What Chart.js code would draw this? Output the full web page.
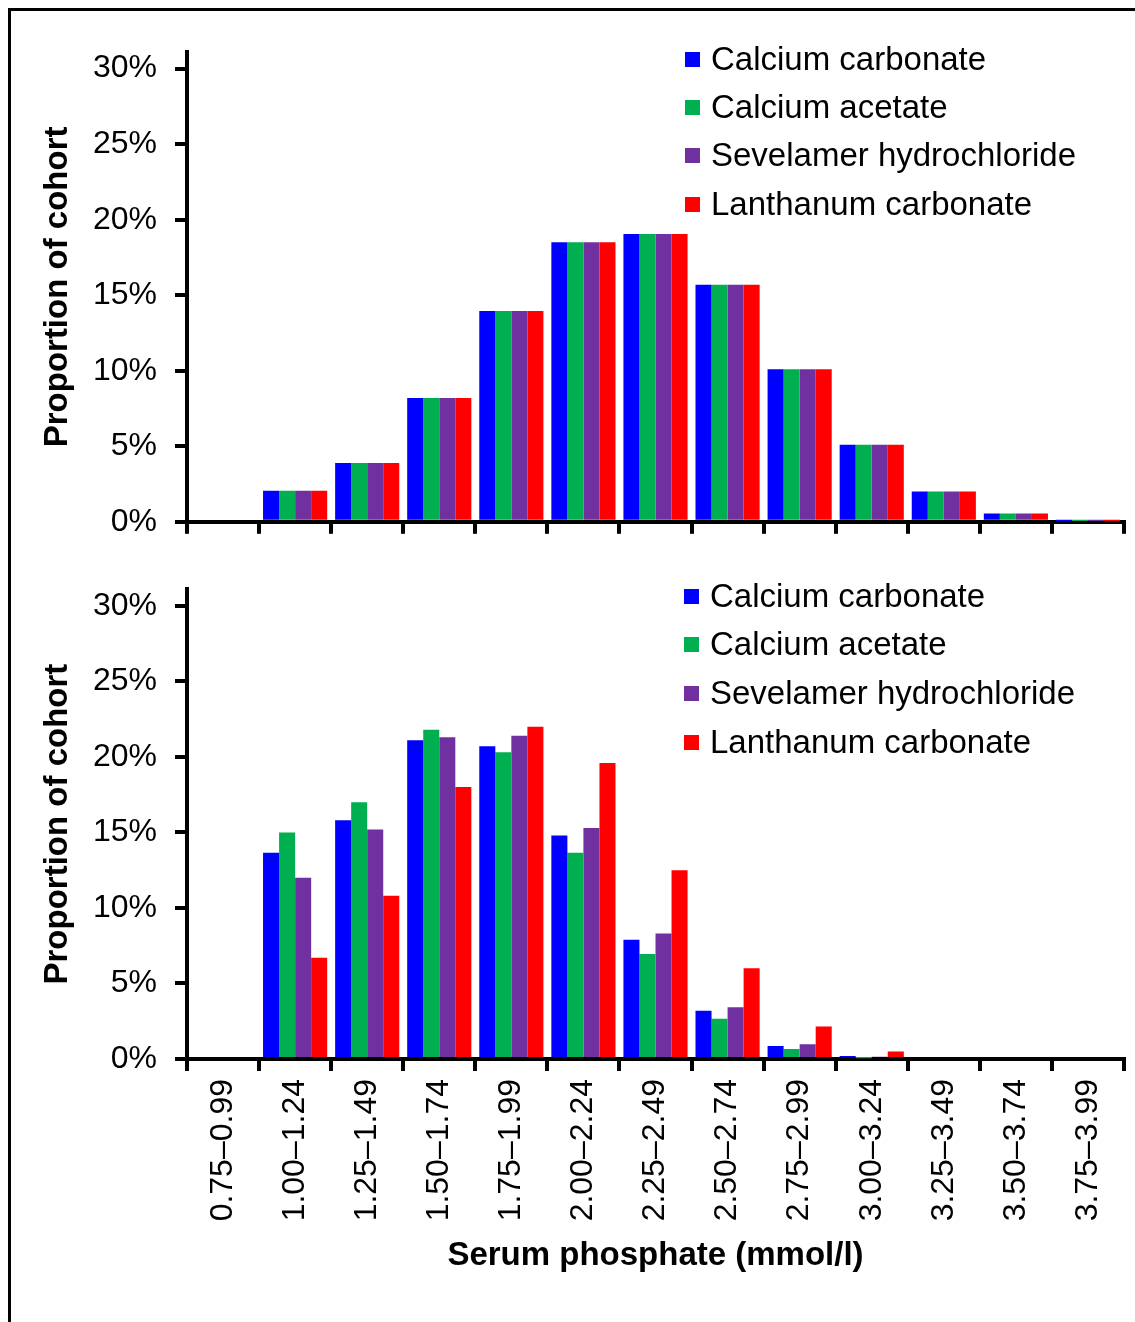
<!DOCTYPE html>
<html>
<head>
<meta charset="utf-8">
<title>Serum phosphate distribution</title>
<script src="https://cdn.jsdelivr.net/npm/chart.js@4.4.0/dist/chart.umd.min.js"></script>
<style>
    html, body { margin: 0; padding: 0; background: #fff; overflow: hidden; }
    #page { position: relative; width: 1135px; height: 1322px; overflow: hidden; }
    .frame {
        position: absolute; left: 8px; top: 8px; width: 1300px; height: 1500px;
        border-left: 3px solid #000; border-top: 3px solid #000;
    }
    canvas { position: absolute; left: 0; }
    .legend-row {
        position: absolute; height: 40px; display: flex; align-items: center;
        font-family: 'Liberation Sans', Arial, sans-serif; font-size: 33px; color: #000;
        white-space: nowrap;
    }
    .legend-box { width: 15px; height: 15px; margin-right: 11px; flex: none; }
</style>
</head>
<body>
<div id="page">
    <div class="frame"></div>
    <canvas id="topChart" width="1135" height="559" style="top:0"></canvas>
    <canvas id="bottomChart" width="1135" height="728" style="top:552px"></canvas>
</div>
<script>
// Serum phosphate bins (mmol/l)
const phosphateBins = [
    '0.75–0.99', '1.00–1.24', '1.25–1.49', '1.50–1.74', '1.75–1.99', '2.00–2.24', '2.25–2.49',
    '2.50–2.74', '2.75–2.99', '3.00–3.24', '3.25–3.49', '3.50–3.74', '3.75–3.99'
];

const seriesNames = ['Calcium carbonate', 'Calcium acetate', 'Sevelamer hydrochloride', 'Lanthanum carbonate'];
const seriesColors = ['#0000ff', '#00b050', '#7030a0', '#ff0000'];

// Top panel: same distribution for every binder (% of cohort)
const baselineShare = [0, 2.05, 3.9, 8.2, 13.95, 18.5, 19.05, 15.7, 10.1, 5.1, 2.0, 0.55, 0.05];

// Bottom panel (% of cohort)
const carbonateShare = [0, 13.65, 15.8, 21.1, 20.7, 14.8, 7.9, 3.2, 0.86, 0.2, 0, 0, 0];
const acetateShare = [0, 15.0, 17.0, 21.8, 20.3, 13.65, 6.95, 2.67, 0.66, 0.05, 0, 0, 0];
const sevelamerShare = [0, 12.0, 15.2, 21.3, 21.4, 15.3, 8.3, 3.42, 0.97, 0.15, 0, 0, 0];
const lanthanumShare = [0, 6.7, 10.8, 18.0, 22.0, 19.6, 12.5, 6.0, 2.15, 0.5, 0, 0, 0];

const yTickValues = [0, 5, 10, 15, 20, 25, 30];

Chart.defaults.font.family = "'Liberation Sans', Arial, sans-serif";
Chart.defaults.color = '#000';

/**
 * Build a grouped bar chart panel
 * @param {String} canvasId - canvas element id
 * @param {Array} seriesData - one value array per binder
 * @param {Object} layout - top padding, x axis height, show labels
 */
function makePanel(canvasId, seriesData, layout) {
    const ctx = document.getElementById(canvasId);

    const datasets = seriesData.map((values, i) => ({
        label: seriesNames[i],
        data: values,
        backgroundColor: seriesColors[i],
        borderWidth: 0,
        categoryPercentage: 0.89,
        barPercentage: 1.0
    }));

    return new Chart(ctx.getContext('2d'), {
        type: 'bar',
        data: { labels: phosphateBins, datasets: datasets },
        options: {
            responsive: false,
            animation: false,
            devicePixelRatio: 1,
            layout: { padding: { top: layout.top, right: 11, bottom: 0, left: 0 } },
            plugins: { legend: { display: false }, tooltip: { enabled: false } },
            scales: {
                x: {
                    offset: true,
                    border: { display: true, color: '#000', width: 4 },
                    grid: {
                        display: true, offset: true, drawOnChartArea: false,
                        drawTicks: true, tickLength: 12, lineWidth: 4, color: '#000'
                    },
                    ticks: {
                        display: layout.showLabels,
                        autoSkip: false, minRotation: 90, maxRotation: 90,
                        padding: 8,
                        font: { size: 32 }
                    },
                    title: {
                        display: layout.showLabels,
                        text: 'Serum phosphate (mmol/l)',
                        font: { size: 33, weight: 'bold' },
                        padding: { top: 0, bottom: 4 }
                    },
                    afterFit: function(scale) { scale.height = layout.xHeight; }
                },
                y: {
                    min: 0,
                    max: 31.1,
                    border: { display: true, color: '#000', width: 4 },
                    grid: {
                        display: true, drawOnChartArea: false,
                        drawTicks: true, tickLength: 12, lineWidth: 4, color: '#000'
                    },
                    ticks: {
                        stepSize: 5,
                        padding: 18,
                        font: { size: 32 },
                        callback: function(value) { return value + '%'; }
                    },
                    afterBuildTicks: function(scale) {
                        scale.ticks = yTickValues.map(v => ({ value: v }));
                    },
                    title: {
                        display: true,
                        text: 'Proportion of cohort',
                        font: { size: 33, weight: 'bold' },
                        padding: { top: 38, bottom: 0 }
                    },
                    afterFit: function(scale) { scale.width = 187; }
                }
            }
        }
    });
}

/**
 * Legend drawn as page text in the top right of a panel
 */
function makeLegend(left, centers) {
    const page = document.getElementById('page');
    seriesNames.forEach((name, i) => {
        const row = document.createElement('div');
        row.className = 'legend-row';
        row.style.left = left + 'px';
        row.style.top = (centers[i] - 20) + 'px';
        const box = document.createElement('span');
        box.className = 'legend-box';
        box.style.background = seriesColors[i];
        const text = document.createElement('span');
        text.textContent = name;
        row.appendChild(box);
        row.appendChild(text);
        page.appendChild(row);
    });
}

makePanel('topChart', [baselineShare, baselineShare, baselineShare, baselineShare],
    { top: 52, xHeight: 24, showLabels: false });
makePanel('bottomChart', [carbonateShare, acetateShare, sevelamerShare, lanthanumShare],
    { top: 22, xHeight: 221, showLabels: true });

makeLegend(685, [59, 107, 155, 204]);
makeLegend(684, [596, 644, 693, 742]);
</script>
</body>
</html>
